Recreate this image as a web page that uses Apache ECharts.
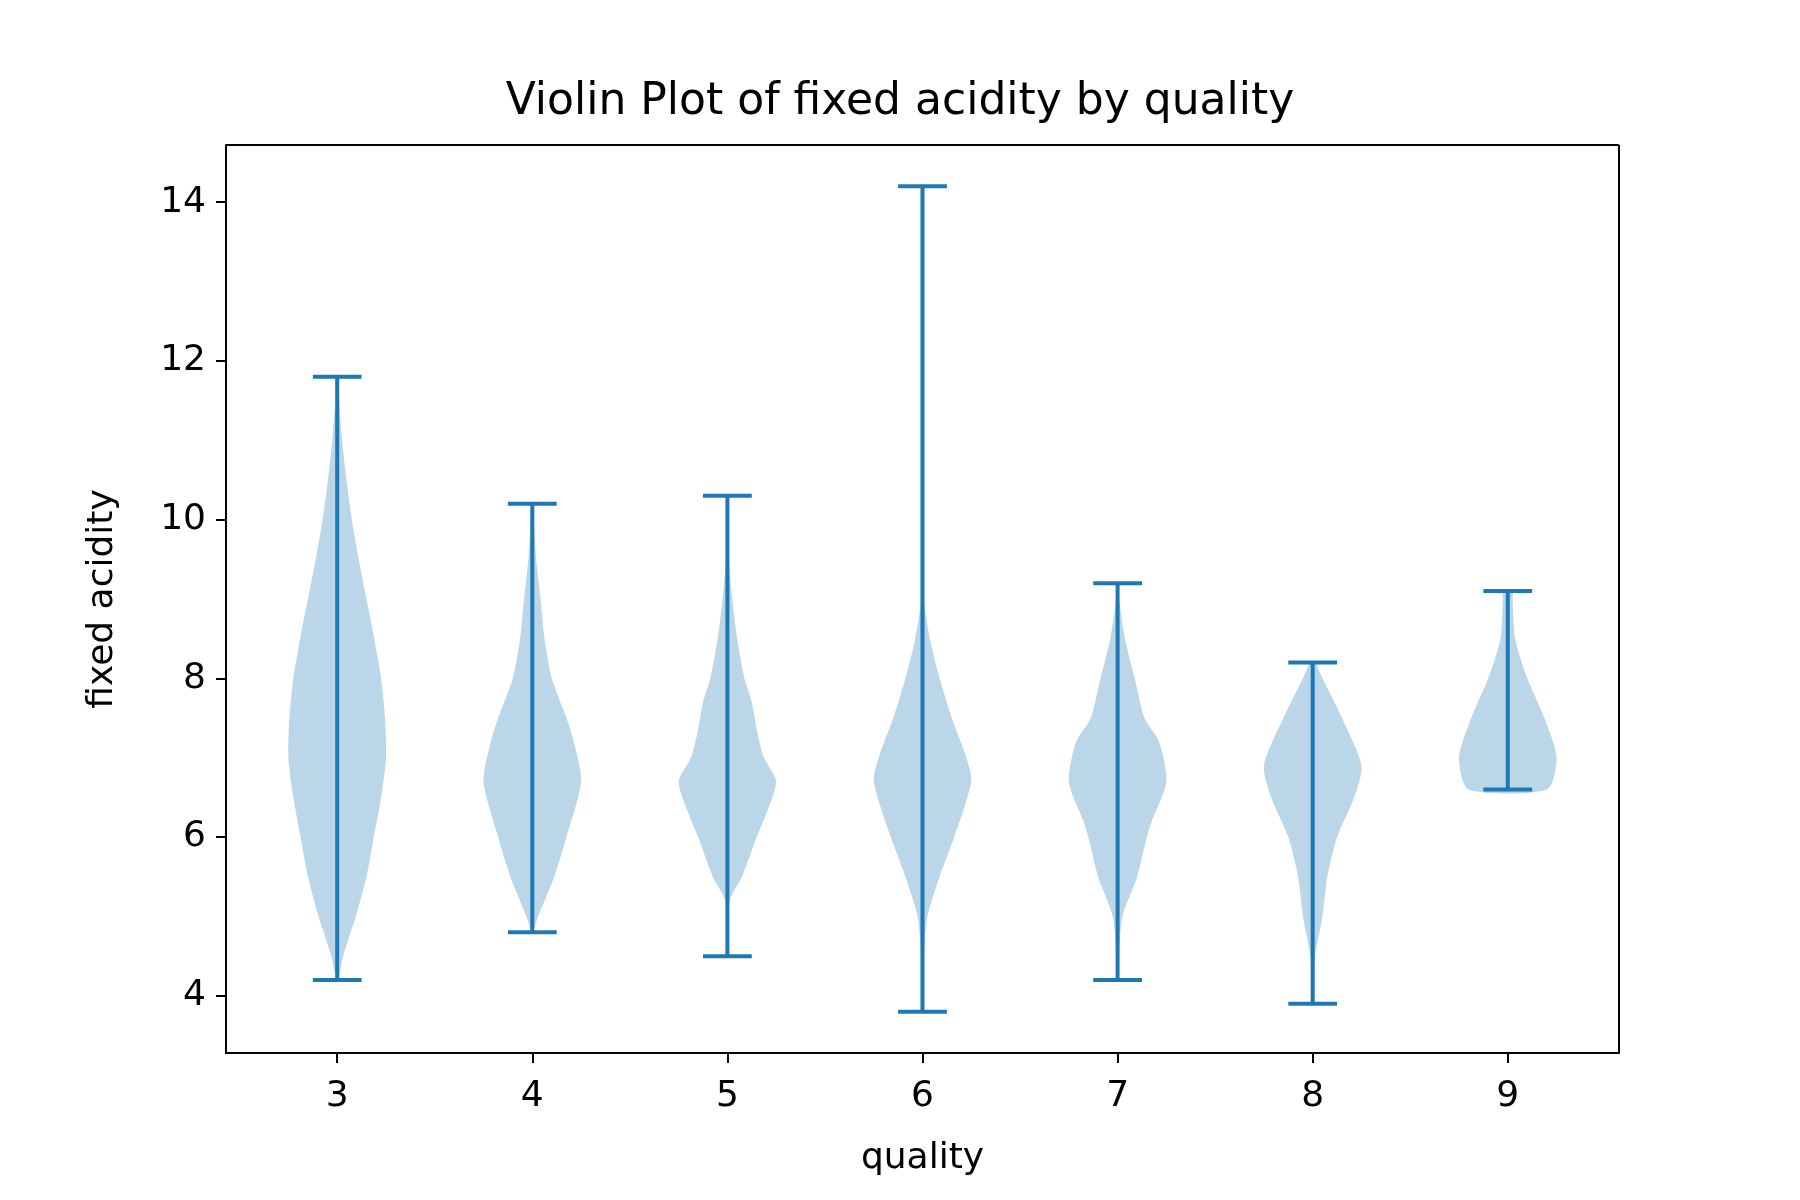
<!DOCTYPE html>
<html><head><meta charset="utf-8">
<script src="https://cdn.jsdelivr.net/npm/echarts@6/dist/echarts.min.js"></script>
<style>html,body{margin:0;background:#fff}#c{width:1800px;height:1200px}</style>
</head><body><div id="c"></div>
<script>
var qualities = [3, 4, 5, 6, 7, 8, 9];
var mins = [4.2, 4.8, 4.5, 3.8, 4.2, 3.9, 6.6];
var maxs = [11.8, 10.2, 10.3, 14.2, 9.2, 8.2, 9.1];
// density profiles: [value, relative half-width]
var shape3 = [[4.2,0.02],[4.5,0.12],[5,0.38],[5.5,0.6],[6,0.75],[6.5,0.9],[7,1],[7.5,0.98],[8,0.9],[8.5,0.76],[9,0.6],[9.5,0.44],[10,0.3],[10.5,0.19],[11,0.1],[11.5,0.04],[11.8,0.02]];
var shape4 = [[4.8,0.01],[5,0.12],[5.5,0.45],[6,0.7],[6.7,1],[7.2,0.85],[7.5,0.7],[8,0.4],[8.5,0.25],[9,0.17],[9.5,0.08],[10,0.03],[10.2,0.01]];
var shape5 = [[4.5,0.0],[5.2,0.05],[5.5,0.3],[6,0.6],[6.3,0.8],[6.7,1],[7,0.75],[7.3,0.62],[7.7,0.5],[8,0.35],[8.5,0.2],[9,0.1],[9.5,0.03],[10,0.01],[10.3,0.0]];
var shape6 = [[3.8,0.0],[4.5,0.03],[5,0.1],[5.5,0.35],[6,0.65],[6.7,1],[7,0.9],[7.5,0.6],[8,0.35],[8.5,0.15],[9,0.03],[10,0.005],[14.2,0.0]];
var shape7 = [[4.2,0.0],[4.5,0.02],[5,0.1],[5.5,0.4],[6,0.6],[6.2,0.7],[6.7,1],[7.2,0.85],[7.5,0.55],[8,0.35],[8.5,0.15],[9,0.03],[9.2,0.01]];
var shape8 = [[3.9,0.0],[4.5,0.05],[5,0.2],[5.5,0.3],[6,0.5],[6.5,0.85],[6.9,1],[7.5,0.6],[8,0.2],[8.2,0.05]];
var shape9 = [[6.6,0.8],[7,1],[7.5,0.75],[8,0.4],[8.5,0.15],[9,0.1],[9.1,0.1]];
var shapes = [shape3, shape4, shape5, shape6, shape7, shape8, shape9];
var xTicks = [3, 4, 5, 6, 7, 8, 9];
var yTicks = [4, 6, 8, 10, 12, 14];

var blue = '#1f77b4';
var chart = echarts.init(document.getElementById('c'));
var font = 'DejaVu Sans';

function violinItem(params, api) {
  var i = params.dataIndex;
  var q = qualities[i], s = shapes[i];
  var right = s.map(function (p) { return api.coord([q + 0.25 * p[1], p[0]]); });
  var left = s.map(function (p) { return api.coord([q - 0.25 * p[1], p[0]]); }).reverse();
  return { type: 'group', children: [
    { type: 'polyline', shape: { points: right, smooth: 0.3 }, style: { stroke: null, fill: null } },
    { type: 'polygon', shape: { points: right.concat(left), smooth: 0.25 }, style: { fill: blue, opacity: 0.3 } }
  ]};
}
function barsItem(params, api) {
  var i = params.dataIndex;
  var q = qualities[i];
  var ls = { stroke: blue, lineWidth: 4 };
  var a = api.coord([q, mins[i]]), b = api.coord([q, maxs[i]]);
  var l1 = api.coord([q - 0.125, mins[i]]), r1 = api.coord([q + 0.125, mins[i]]);
  var l2 = api.coord([q - 0.125, maxs[i]]), r2 = api.coord([q + 0.125, maxs[i]]);
  return { type: 'group', children: [
    { type: 'line', shape: { x1: a[0], y1: a[1], x2: b[0], y2: b[1] }, style: ls },
    { type: 'line', shape: { x1: l1[0], y1: l1[1], x2: r1[0], y2: r1[1] }, style: ls },
    { type: 'line', shape: { x1: l2[0], y1: l2[1], x2: r2[0], y2: r2[1] }, style: ls }
  ]};
}

var data = qualities.map(function (q, i) { return [q, mins[i], maxs[i]]; });

chart.setOption({
  animation: false,
  title: { text: 'Violin Plot of fixed acidity by quality', left: 'center', top: 76,
    textStyle: { fontFamily: font, fontSize: 44, fontWeight: 'normal', color: '#000' } },
  grid: { left: 226, right: 181, top: 145, bottom: 147 },
  xAxis: {
    type: 'value', min: 2.43, max: 9.57,
    name: 'quality', nameLocation: 'middle', nameGap: 88,
    nameTextStyle: { fontFamily: font, fontSize: 36, color: '#000' },
    axisLine: { show: true, onZero: false, lineStyle: { color: '#000', width: 2 } },
    axisTick: { show: true, length: 10, lineStyle: { color: '#000', width: 2 }, customValues: xTicks },
    axisLabel: { fontFamily: font, fontSize: 36, color: '#000', margin: 26, customValues: xTicks },
    splitLine: { show: false }
  },
  yAxis: {
    type: 'value', min: 3.28, max: 14.72,
    name: 'fixed acidity', nameLocation: 'middle', nameGap: 105,
    nameTextStyle: { fontFamily: font, fontSize: 36, color: '#000' },
    axisLine: { show: true, onZero: false, lineStyle: { color: '#000', width: 2 } },
    axisTick: { show: true, length: 10, lineStyle: { color: '#000', width: 2 }, customValues: yTicks },
    axisLabel: { fontFamily: font, fontSize: 36, color: '#000', margin: 20, customValues: yTicks },
    splitLine: { show: false }
  },
  series: [
    { type: 'custom', renderItem: violinItem, data: data, encode: { x: 0, y: [1, 2] }, silent: true },
    { type: 'custom', renderItem: barsItem, data: data, encode: { x: 0, y: [1, 2] }, silent: true },
    { type: 'line', data: [], markLine: { silent: true, symbol: 'none', label: { show: false },
        lineStyle: { color: '#000', width: 2, type: 'solid' },
        data: [[{ coord: [2.43, 14.72] }, { coord: [9.57, 14.72] }], [{ coord: [9.57, 3.28] }, { coord: [9.57, 14.72] }]] } }
  ]
});
</script></body></html>
